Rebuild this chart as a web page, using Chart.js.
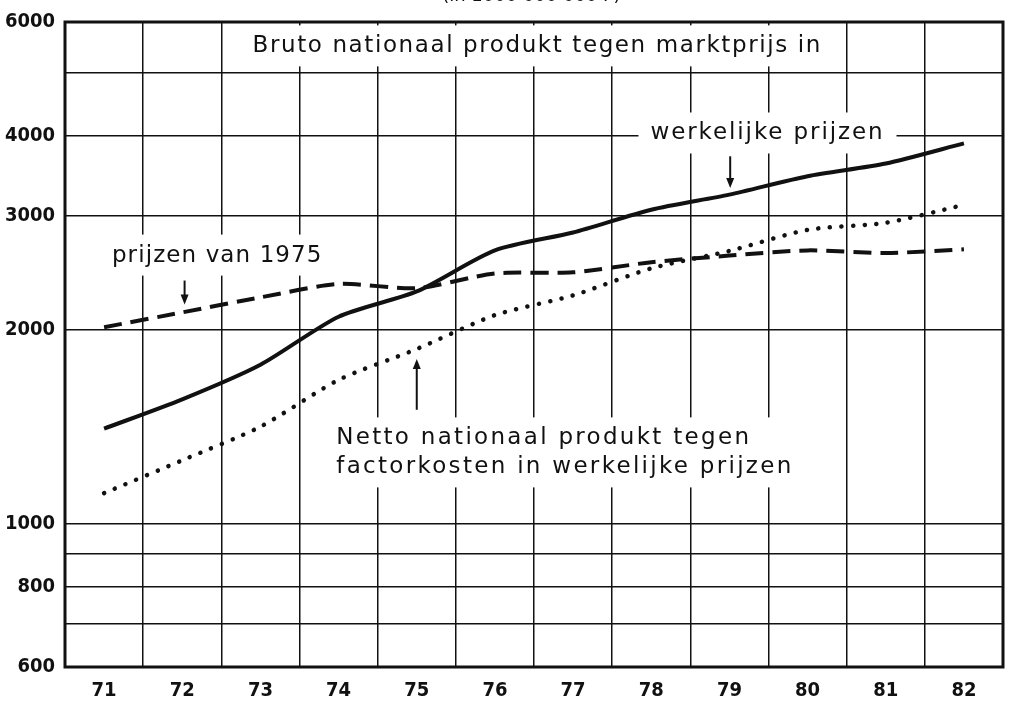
<!DOCTYPE html>
<html>
<head>
<meta charset="utf-8">
<script src="https://cdn.jsdelivr.net/npm/chart.js@4.4.1/dist/chart.umd.min.js"></script>
<style>
  html, body { margin: 0; padding: 0; background: #fff; }
  #wrap { width: 1012px; height: 707px; }
</style>
</head>
<body>
<div id="wrap"><canvas id="c" width="1012" height="707"></canvas></div>
<script>
// jaren (x-as)
const years = ['71', '72', '73', '74', '75', '76', '77', '78', '79', '80', '81', '82'];

// Bruto nationaal produkt tegen marktprijs, werkelijke prijzen
const bnpWerkelijk = [1405, 1560, 1765, 2095, 2293, 2655, 2830, 3070, 3240, 3460, 3620, 3890];
// Bruto nationaal produkt tegen marktprijs, prijzen van 1975
const bnpPrijzen1975 = [2018, 2128, 2245, 2355, 2320, 2445, 2455, 2545, 2606, 2655, 2630, 2665];
// Netto nationaal produkt tegen factorkosten, werkelijke prijzen
const nnpFactorkosten = [1116, 1255, 1415, 1672, 1867, 2107, 2261, 2490, 2650, 2857, 2930, 3123];

// y-as (log)
const yGridValues = [600, 700, 800, 900, 1000, 2000, 3000, 4000, 5000, 6000];
const yLabelValues = [600, 800, 1000, 2000, 3000, 4000, 6000];

const tickFont = { family: '"DejaVu Sans Condensed", "Liberation Sans Narrow", "DejaVu Sans", sans-serif', size: 20, weight: 'bold' };
const noteFont = '23px "DejaVu Sans", sans-serif';

// teksten in de grafiek, geplaatst in data-coordinaten (jaarindex, waarde)
const notes = [
  { lines: ['Bruto nationaal produkt tegen marktprijs in'], x: 1.90, y: 5500, spacing: 1.6 },
  { lines: ['werkelijke prijzen'], x: 6.99, y: 4030, spacing: 1.9 },
  { lines: ['prijzen van 1975'], x: 0.1, y: 2606, spacing: 1.1 },
  { lines: ['Netto nationaal produkt tegen', 'factorkosten in werkelijke prijzen'], x: 2.97, y: 1357, spacing: 2.3 }
];
const arrows = [
  { x: 8.01, from: 3715, to: 3316 },
  { x: 1.03, from: 2384, to: 2189 },
  { x: 4.0, from: 1503, to: 1802 }
];

const notesPlugin = {
  id: 'notes',
  beforeDatasetsDraw(chart) {
    const { ctx, scales: { x, y } } = chart;
    ctx.save();
    ctx.font = noteFont;
    ctx.textBaseline = 'middle';
    ctx.textAlign = 'left';
    const lh = 29;
    notes.forEach(n => {
      ctx.letterSpacing = n.spacing + 'px';
      const px = x.getPixelForValue(n.x);
      const py = y.getPixelForValue(n.y);
      const w = Math.max(...n.lines.map(l => ctx.measureText(l).width));
      const top = Math.max(py - 21, chart.chartArea.top + 1);
      const bottom = py + lh * (n.lines.length - 1) + 20;
      ctx.fillStyle = '#fff';
      ctx.fillRect(px - 12, top, w + 24, bottom - top);
      ctx.fillStyle = '#111';
      n.lines.forEach((l, i) => ctx.fillText(l, px, py + i * lh));
    });
    ctx.restore();
  },
  afterDatasetsDraw(chart) {
    const { ctx, scales: { x, y } } = chart;
    ctx.save();
    ctx.strokeStyle = '#111';
    ctx.fillStyle = '#111';
    ctx.lineWidth = 2;
    arrows.forEach(a => {
      const px = x.getPixelForValue(a.x);
      const y0 = y.getPixelForValue(a.from);
      const y1 = y.getPixelForValue(a.to);
      const dir = y1 > y0 ? 1 : -1;
      ctx.beginPath();
      ctx.moveTo(px, y0);
      ctx.lineTo(px, y1 - dir * 8);
      ctx.stroke();
      ctx.beginPath();
      ctx.moveTo(px - 4, y1 - dir * 10);
      ctx.lineTo(px + 4, y1 - dir * 10);
      ctx.lineTo(px, y1);
      ctx.closePath();
      ctx.fill();
    });
    // kop boven de grafiek, grotendeels buiten beeld
    ctx.font = '18px "DejaVu Sans", sans-serif';
    ctx.textAlign = 'center';
    ctx.textBaseline = 'alphabetic';
    ctx.fillText('(in 1000 000 000 F)', chart.width * 0.525, 1);
    // kader
    const a = chart.chartArea;
    ctx.lineWidth = 3;
    ctx.strokeRect(a.left, a.top, a.right - a.left, a.bottom - a.top);
    ctx.restore();
  }
};

new Chart(document.getElementById('c'), {
  type: 'line',
  data: {
    labels: years,
    datasets: [
      {
        label: 'werkelijke prijzen',
        data: bnpWerkelijk,
        borderColor: '#111',
        borderWidth: 4,
        tension: 0.25,
        pointRadius: 0
      },
      {
        label: 'prijzen van 1975',
        data: bnpPrijzen1975,
        borderColor: '#111',
        borderWidth: 4,
        borderDash: [18, 9],
        tension: 0.25,
        pointRadius: 0
      },
      {
        label: 'Netto nationaal produkt tegen factorkosten',
        data: nnpFactorkosten,
        borderColor: '#111',
        borderWidth: 4.5,
        borderDash: [0.1, 11.5],
        borderCapStyle: 'round',
        tension: 0.25,
        pointRadius: 0
      }
    ]
  },
  options: {
    responsive: false,
    animation: false,
    layout: { padding: { top: 17, right: 9, left: 0, bottom: 0 } },
    plugins: {
      legend: { display: false },
      tooltip: { enabled: false }
    },
    scales: {
      x: {
        type: 'category',
        offset: true,
        grid: { offset: true, color: '#111', lineWidth: 1.5, drawTicks: false },
        border: { display: false },
        ticks: { color: '#111', font: tickFont, padding: 12, maxRotation: 0 },
        afterFit: (s) => { s.height = 40; }
      },
      y: {
        type: 'logarithmic',
        min: 600,
        max: 6000,
        grid: { color: '#111', lineWidth: 1.5, drawTicks: false },
        border: { display: false },
        afterBuildTicks: (s) => { s.ticks = yGridValues.map(v => ({ value: v })); },
        ticks: {
          color: '#111',
          font: tickFont,
          padding: 10,
          autoSkip: false,
          callback: (v) => yLabelValues.includes(v) ? String(v) : ''
        },
        afterFit: (s) => { s.width = 65; }
      }
    }
  },
  plugins: [notesPlugin]
});
</script>
</body>
</html>
